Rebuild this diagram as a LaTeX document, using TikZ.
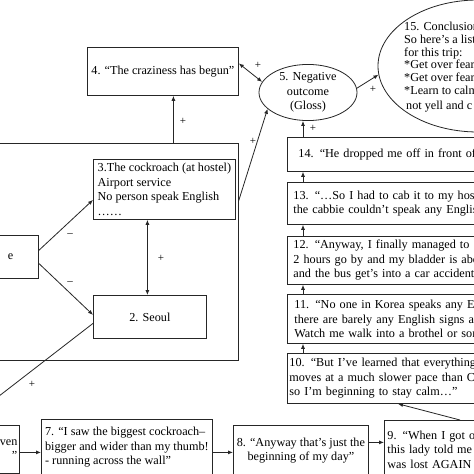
\documentclass[tikz,border=0pt]{standalone}
\usepackage{fontspec}
\setmainfont{Liberation Serif}
\usetikzlibrary{arrows.meta,shapes.geometric}
\begin{document}
\begin{tikzpicture}[x=1pt,y=-1pt,
  txt/.style={font=\fontsize{12.2}{14.5}\selectfont},
  box/.style={txt, draw=black!85, line width=0.8pt, rectangle, inner ysep=0pt, inner xsep=3pt, anchor=north west},
  oval/.style={txt, draw=black!85, line width=0.8pt, ellipse, inner sep=0pt},
  conn/.style={draw=black!85, line width=0.8pt},
  arr/.style={conn, -{Latex[length=5pt,width=4pt]}},
  dbl/.style={conn, {Latex[length=5pt,width=4pt]}-{Latex[length=5pt,width=4pt]}},
  lbl/.style={font=\fontsize{11}{13}\selectfont, inner sep=0pt},
]
\useasboundingbox (0,0) rectangle (474,474);
\fill[white] (0,0) rectangle (474,474);
\clip (0,0) rectangle (474,474);

% left part
\node[box, minimum width=248pt, minimum height=217pt] (big) at (-10,143) {};
\node[box, minimum width=151pt, minimum height=48pt] (b4) at (87,47) {4. “The craziness has begun”};
\node[box, minimum width=142pt, minimum height=60pt, align=left] (b3) at (93,159) {3.The cockroach (at hostel)\\Airport service\\No person speak English\\……};
\node[box, minimum width=113pt, minimum height=43pt] (b2) at (93,295) {2. Seoul};
\node[box, minimum width=98pt, minimum height=43pt, inner xsep=25pt, text width=48pt, align=right] (b1) at (-60,235) {\raisebox{-3.5pt}{e}};

% bottom row
\node[box, minimum width=79pt, minimum height=48pt, inner xsep=2pt, text width=75pt, align=right] (b6) at (-60,425) {even\\”\hspace{7pt}};
\node[box, minimum width=171pt, minimum height=56pt, align=left] (b7) at (41,419) {7. “I saw the biggest cockroach–\\bigger and wider than my thumb!\\- running across the wall”};
\node[box, minimum width=135pt, minimum height=50pt, align=center] (b8) at (233,425) {8. “Anyway that's just the\\beginning of my day”};
\node[box, minimum height=58pt, text width=200pt, align=left] (b9) at (384,420) {9. “When I got off\\this lady told me\\was lost AGAIN};

% right column
\node[box, minimum height=50pt, inner xsep=2pt, text width=300pt, align=left] (b10) at (287,353) {10. “But I've learned that everything\\moves at a much slower pace than C\\so I'm beginning to stay calm…”};
\node[box, minimum height=49pt, inner xsep=7pt, text width=300pt, align=left] (b11) at (287,294) {11. “No one in Korea speaks any English\\there are barely any English signs around\\Watch me walk into a brothel or some};
\node[box, minimum height=48pt, inner xsep=6pt, text width=300pt, align=left] (b12) at (287,236) {12. “Anyway, I finally managed to get\\2 hours go by and my bladder is about\\and the bus get's into a car accident”};
\node[box, minimum height=42pt, inner xsep=6pt, text width=300pt, align=left] (b13) at (287,182) {13. “…So I had to cab it to my hostel\\the cabbie couldn't speak any English};
\node[box, minimum height=34pt, inner xsep=11pt, text width=300pt, align=left] (b14) at (287,137) {14. “He dropped me off in front of the};

% ovals
\node[oval, minimum width=98pt, minimum height=49pt, align=center] (e5) at (308,92.5) {5. Negative\\outcome\\(Gloss)};
\node[oval, minimum width=200pt, minimum height=132pt] (e15) at (478,66) {};
\node[inner sep=0pt, anchor=west, align=left, font=\fontsize{12.2}{12.8}\selectfont] (t15) at (404,67) {15. Conclusion\\So here's a list\\for this trip:\\*Get over fear\\*Get over fear\\*Learn to calm\\[2pt]\hspace{2pt}not yell and c};

% connectors
\draw[arr] ([yshift=6.5pt]b1.east) -- ([yshift=-10.5pt]b3.west);
\draw[arr] ([yshift=-6.5pt]b1.east) -- ([yshift=2pt]b2.west);
\draw[dbl] ([xshift=-2.5pt]b2.north) -- ([xshift=-2.5pt]b2.north |- b3.south);
\coordinate (c6) at (-30,418.5);
\draw[conn] ([yshift=-6.5pt]b2.west) -- (c6);
\draw[arr] ([xshift=10.5pt]b4.south |- big.north) -- ([xshift=10.5pt]b4.south);
\draw[arr] ([yshift=51.5pt]big.east) -- (e5.202);
\draw[dbl] (e5.167) -- ([yshift=8pt]b4.east);
\draw[arr] ([xshift=16pt]b14.north west) -- ([xshift=16pt]b14.north west |- e5.south);
\draw[arr] (e5.5) -- (e15.185);
\draw[arr] ([xshift=16pt]b13.north west) -- ([xshift=16pt]b14.south west);
\draw[arr] ([xshift=16pt]b12.north west) -- ([xshift=16pt]b13.south west);
\draw[arr] ([xshift=16pt]b11.north west) -- ([xshift=16pt]b12.south west);
\draw[arr] ([xshift=16pt]b10.north west) -- ([xshift=16pt]b11.south west);
\draw[arr] ([xshift=76pt]b9.north west) -- ([xshift=111pt]b10.south west);
\draw[arr] ([yshift=8pt]b8.east) -- ([yshift=8pt]b8.east -| b9.west);
\draw[arr] ([yshift=-5pt]b7.east) -- ([yshift=-5pt]b7.east -| b8.west);
\draw[arr] ([yshift=-5pt]b7.west -| b6.east) -- ([yshift=-5pt]b7.west);

% labels
\node[lbl] (m1) at (70,235) {–};
\node[lbl] (m2) at (70,283) {–};
\node[lbl] (p1) at (161,258) {+};
\node[lbl] (p2) at (183,121) {+};
\node[lbl] (p3) at (32,384) {+};
\node[lbl] (p4) at (258,65) {+};
\node[lbl] (p5) at (253,141) {+};
\node[lbl] (p6) at (313,128) {+};
\node[lbl] (p7) at (373,89) {+};
\end{tikzpicture}
\end{document}
